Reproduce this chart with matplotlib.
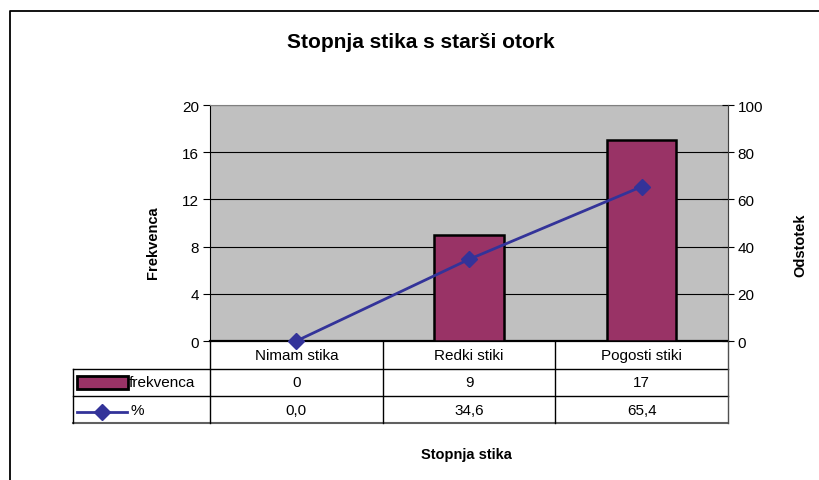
import matplotlib
matplotlib.use('Agg')
import matplotlib.pyplot as plt
from matplotlib.transforms import blended_transform_factory
from matplotlib.lines import Line2D
from matplotlib.patches import Rectangle

categories = ['Nimam stika', 'Redki stiki', 'Pogosti stiki']
frekvenca = [0, 9, 17]
odstotek = [0.0, 34.6, 65.4]
left_ticks = [0, 4, 8, 12, 16, 20]
right_ticks = [0, 20, 40, 60, 80, 100]
series_names = ['frekvenca', '%']
title = 'Stopnja stika s starši otork'
xlabel = 'Stopnja stika'
ylabel_left = 'Frekvenca'
ylabel_right = 'Odstotek'

BAR_C = '#993366'
LINE_C = '#333399'

plt.rcParams['font.family'] = ['Liberation Sans', 'DejaVu Sans']

W, H = 819, 481
fig = plt.figure(figsize=(W / 100, H / 100), dpi=100)


def fx(px):
    return px / W


def fy(py):
    return 1 - py / H


# frame of the whole chart (only top/left visible)
fig.add_artist(Line2D([fx(9.5), fx(9.5), fx(830)], [fy(490), fy(11.5), fy(11.5)],
                      color='black', lw=1.3, transform=fig.transFigure))

ax = fig.add_axes([fx(210), fy(342), fx(728) - fx(210), fy(106) - fy(342)])
ax.set_facecolor('#C0C0C0')
x = list(range(len(categories)))
ax.bar(x, frekvenca, width=0.4, color=BAR_C, edgecolor='black', linewidth=1.8, zorder=3)
ax.set_xlim(-0.5, len(categories) - 0.5)
ax.set_ylim(left_ticks[0], left_ticks[-1])
ax.set_yticks(left_ticks)
ax.yaxis.grid(True, color='black', linewidth=0.8)
ax.set_axisbelow(True)
ax.set_xticks([])
ax.tick_params(axis='y', direction='out', length=5, width=0.8, labelsize=11, pad=3)
for s in ['top', 'right']:
    ax.spines[s].set_color('#808080')
ax.spines['bottom'].set_linewidth(1.6)
ax.spines['left'].set_linewidth(0.8)

ax2 = ax.twinx()
ax2.plot(x, odstotek, color=LINE_C, marker='D', markersize=8, lw=2.0, clip_on=False, zorder=5)
ax2.set_ylim(right_ticks[0], right_ticks[-1])
ax2.set_yticks(right_ticks)
ax2.tick_params(axis='y', direction='inout', length=8, width=0.8, labelsize=11, pad=3)
for s in ['top', 'left', 'bottom']:
    ax2.spines[s].set_visible(False)
ax2.spines['right'].set_color('#404040')

fig.text(fx(421), fy(42), title, ha='center', va='center', fontsize=15, fontweight='bold')
fig.text(fx(153), fy(243), ylabel_left, ha='center', va='center', rotation=90,
         fontsize=10.5, fontweight='bold')
fig.text(fx(800), fy(245), ylabel_right, ha='center', va='center', rotation=90,
         fontsize=10.5, fontweight='bold')
fig.text(fx(466), fy(455), xlabel, ha='center', va='center', fontsize=10.5, fontweight='bold')

# data table below the plot
T = blended_transform_factory(ax.transData, ax.transAxes)
cat_px = (728 - 210) / len(categories)


def dx(px):
    return -0.5 + (px - 210) / cat_px


def ry(py):
    return (342 - py) / (342 - 106)


xl = dx(73)
xr = len(categories) - 0.5
kw = dict(transform=T, clip_on=False)
ax.add_line(Line2D([xl, xr], [ry(370), ry(370)], color='black', lw=1.0, **kw))
ax.add_line(Line2D([xl, xr], [ry(397), ry(397)], color='black', lw=1.0, **kw))
ax.add_line(Line2D([xl, xr], [ry(424), ry(424)], color='#606060', lw=1.5, **kw))
for b in [i + 0.5 for i in range(-1, len(categories))]:
    c = '#505050' if b == xr else 'black'
    ax.add_line(Line2D([b, b], [ry(342), ry(424)], color=c, lw=1.0, **kw))
ax.add_line(Line2D([xl, xl], [ry(370), ry(424)], color='black', lw=1.0, **kw))

fs = 11
for i, cat in enumerate(categories):
    ax.text(i, ry(356), cat, ha='center', va='center', fontsize=fs, **kw)
    ax.text(i, ry(383), f'{frekvenca[i]}', ha='center', va='center', fontsize=fs, **kw)
    ax.text(i, ry(411), f'{odstotek[i]:.1f}'.replace('.', ','), ha='center', va='center',
            fontsize=fs, **kw)

# legend keys
ax.add_patch(Rectangle((dx(77), ry(390)), dx(128) - dx(77), ry(377) - ry(390),
                       facecolor=BAR_C, edgecolor='black', lw=2.0, **kw))
ax.add_line(Line2D([dx(77), dx(127)], [ry(413), ry(413)], color=LINE_C, lw=2.0, **kw))
ax.add_line(Line2D([dx(102)], [ry(413)], color=LINE_C, marker='D', markersize=8, lw=0, **kw))
ax.text(dx(129), ry(383), series_names[0], ha='left', va='center', fontsize=fs, **kw)
ax.text(dx(131), ry(411), series_names[1], ha='left', va='center', fontsize=fs, **kw)

fig.savefig('out.png', dpi=100, facecolor='white')
